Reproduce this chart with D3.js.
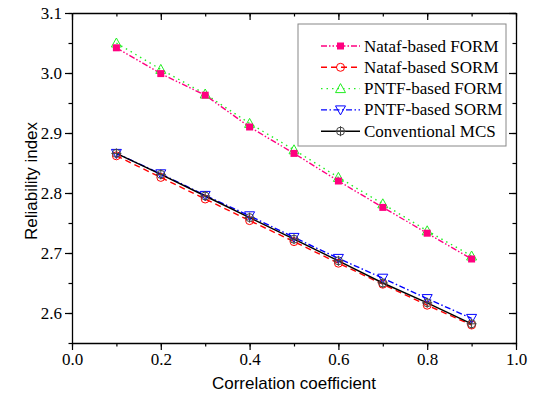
<!DOCTYPE html>
<html>
<head>
  <meta charset="utf-8">
  <title>Reliability index vs correlation</title>
  <script src="https://d3js.org/d3.v7.min.js"></script>
  <style>
    body { margin: 0; background: #fff; }
    .title { font-family: "Liberation Sans", Arial, sans-serif; font-size: 17px; fill: #000; }
    .legend text { font-family: "Liberation Serif", "Times New Roman", serif; font-size: 17px; fill: #000; }
  </style>
</head>
<body>
<script>
  // correlation coefficients
  const rho = [0.1, 0.2, 0.3, 0.4, 0.5, 0.6, 0.7, 0.8, 0.9];

  // reliability index of each method
  const natafForm = [3.042, 2.999, 2.963, 2.910, 2.866, 2.820, 2.776, 2.733, 2.690];
  const natafSorm = [2.862, 2.826, 2.790, 2.754, 2.719, 2.683, 2.648, 2.613, 2.580];
  const pntfForm  = [3.050, 3.006, 2.965, 2.916, 2.872, 2.826, 2.782, 2.737, 2.695];
  const pntfSorm  = [2.866, 2.832, 2.796, 2.762, 2.726, 2.691, 2.658, 2.624, 2.591];
  const mcs       = [2.866, 2.831, 2.795, 2.759, 2.723, 2.687, 2.650, 2.617, 2.582];

  const xTicks = [0, 0.2, 0.4, 0.6, 0.8, 1.0];
  const yTicks = [2.6, 2.7, 2.8, 2.9, 3.0, 3.1];

  const series = [
    { name: "Nataf-based FORM", values: natafForm, color: "#ff0080", dash: "6,2,1.5,2,1.5,2", marker: "square" },
    { name: "Nataf-based SORM", values: natafSorm, color: "#ff0000", dash: "6,4", marker: "circle" },
    { name: "PNTF-based FORM", values: pntfForm, color: "#22ee22", dash: "1.5,4", marker: "up" },
    { name: "PNTF-based SORM", values: pntfSorm, color: "#0000ff", dash: "6,2.5,1.5,2.5", marker: "down" },
    { name: "Conventional MCS", values: mcs, color: "#000000", dash: null, marker: "cross" }
  ];

  const W = 539, H = 399;
  const m = { left: 72, right: 23, top: 13, bottom: 56 };

  const x = d3.scaleLinear().domain([0, 1]).range([m.left, W - m.right]);
  const y = d3.scaleLinear().domain([2.55, 3.1]).range([H - m.bottom, m.top]);

  const svg = d3.select("body").append("svg")
    .attr("width", W).attr("height", H);

  // axes with minor ticks
  const minorX = d3.range(0, 1.001, 0.1);
  const minorY = d3.range(2.55, 3.101, 0.05);

  function drawAxis(axisFn, scale, minors, majors, transform, outward, labels) {
    const g = svg.append("g").attr("transform", transform);
    g.call(axisFn(scale).tickValues(minors).tickSize(outward ? 3.5 : -3.5).tickFormat(""));
    g.select(".domain").remove();
    const g2 = svg.append("g").attr("transform", transform);
    g2.call(axisFn(scale).tickValues(majors).tickSize(outward ? 7 : -7).tickSizeOuter(0)
      .tickPadding(3).tickFormat(labels ? d3.format(".1f") : ""));
    g2.attr("font-family", "'Liberation Serif', 'Times New Roman', serif").attr("font-size", 17);
    g2.select(".domain").attr("stroke-width", 1.3);
    g.selectAll("line").attr("stroke-width", 1.2);
    g2.selectAll("line").attr("stroke-width", 1.2);
    return g2;
  }

  drawAxis(d3.axisBottom, x, minorX, xTicks, `translate(0,${H - m.bottom})`, true, true);
  drawAxis(d3.axisTop, x, minorX, xTicks, `translate(0,${m.top})`, false, false);
  drawAxis(d3.axisLeft, y, minorY, yTicks, `translate(${m.left},0)`, true, true);
  drawAxis(d3.axisRight, y, minorY, yTicks, `translate(${W - m.right},0)`, false, false);

  svg.append("text").attr("class", "title")
    .attr("x", x(0.5)).attr("y", 389).attr("text-anchor", "middle")
    .text("Correlation coefficient");
  svg.append("text").attr("class", "title")
    .attr("transform", `translate(37,${y(2.82)}) rotate(-90)`)
    .attr("text-anchor", "middle")
    .text("Reliability index");

  function drawMarker(g, type, cx, cy, color) {
    if (type === "square") {
      g.append("rect").attr("x", cx - 3.5).attr("y", cy - 3.5).attr("width", 7).attr("height", 7)
        .attr("fill", color);
    } else if (type === "circle") {
      g.append("circle").attr("cx", cx).attr("cy", cy).attr("r", 4)
        .attr("fill", "none").attr("stroke", color).attr("stroke-width", 1);
    } else if (type === "up") {
      g.append("path").attr("d", `M${cx},${cy - 5}L${cx + 5},${cy + 4}L${cx - 5},${cy + 4}Z`)
        .attr("fill", "none").attr("stroke", color).attr("stroke-width", 1);
    } else if (type === "down") {
      g.append("path").attr("d", `M${cx},${cy + 5}L${cx + 5},${cy - 4}L${cx - 5},${cy - 4}Z`)
        .attr("fill", "none").attr("stroke", color).attr("stroke-width", 1);
    } else if (type === "cross") {
      g.append("circle").attr("cx", cx).attr("cy", cy).attr("r", 4)
        .attr("fill", "none").attr("stroke", "#444").attr("stroke-width", 1);
      g.append("path").attr("d", `M${cx - 5},${cy}H${cx + 5}M${cx},${cy - 5}V${cy + 5}`)
        .attr("stroke", "#444").attr("stroke-width", 1);
    }
  }

  const line = d3.line().x(d => x(d[0])).y(d => y(d[1]));

  // draw lines first, then markers
  const order = [2, 0, 1, 3, 4];
  order.forEach(i => {
    const s = series[i];
    svg.append("path")
      .datum(rho.map((r, k) => [r, s.values[k]]))
      .attr("d", line)
      .attr("fill", "none")
      .attr("stroke", s.color)
      .attr("stroke-width", 1.4)
      .attr("stroke-dasharray", s.dash);
  });
  order.forEach(i => {
    const s = series[i];
    const g = svg.append("g");
    rho.forEach((r, k) => drawMarker(g, s.marker, x(r), y(s.values[k]), s.color));
  });

  // legend
  const lg = svg.append("g").attr("class", "legend");
  lg.append("rect").attr("x", 298).attr("y", 24).attr("width", 208).attr("height", 122)
    .attr("fill", "#fff").attr("stroke", "#888").attr("stroke-width", 1);
  series.forEach((s, i) => {
    const ly = 46 + i * 21.3;
    lg.append("line").attr("x1", 321).attr("x2", 360).attr("y1", ly).attr("y2", ly)
      .attr("stroke", s.color).attr("stroke-width", 1.4).attr("stroke-dasharray", s.dash);
    drawMarker(lg, s.marker, 340.5, ly, s.color);
    lg.append("text").attr("x", 364).attr("y", ly + 5.5).text(s.name);
  });
</script>
</body>
</html>
